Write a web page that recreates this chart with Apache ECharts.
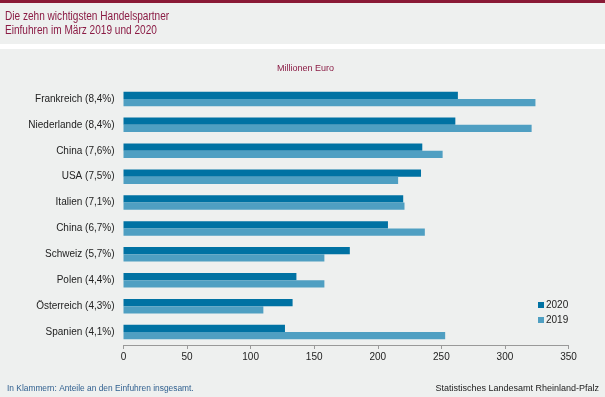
<!DOCTYPE html>
<html>
<head>
<meta charset="utf-8">
<script src="https://cdn.jsdelivr.net/npm/echarts@6/dist/echarts.min.js"></script>
<style>
  html, body { margin: 0; padding: 0; background: #eef0ef; }
  #chart { width: 605px; height: 397px; }
</style>
</head>
<body>
<div id="chart"></div>
<script>
// Länder mit Anteil an den Einfuhren insgesamt
const countries = ['Frankreich (8,4%)', 'Niederlande (8,4%)', 'China (7,6%)', 'USA (7,5%)', 'Italien (7,1%)',
  'China (6,7%)', 'Schweiz (5,7%)', 'Polen (4,4%)', 'Österreich (4,3%)', 'Spanien (4,1%)'];
// Millionen Euro
const values2020 = [263, 261, 235, 234, 220, 208, 178, 136, 133, 127];
const values2019 = [324, 321, 251, 216, 221, 237, 158, 158, 110, 253];
const xTicks = [0, 50, 100, 150, 200, 250, 300, 350];

const font = 'Liberation Sans, Arial, sans-serif';
const maroon = '#8b1c45';

let myChart = echarts.init(document.getElementById('chart'));
let option = {
  backgroundColor: '#eef0ef',
  animation: false,
  textStyle: { fontFamily: font },
  graphic: [
    { type: 'rect', shape: { x: 0, y: 0, width: 605, height: 3 }, style: { fill: '#8a1a36' } },
    { type: 'rect', shape: { x: 0, y: 44, width: 605, height: 5 }, style: { fill: '#ffffff' } },
    { type: 'text', x: 5, y: 11, scaleX: 0.84, style: { text: 'Die zehn wichtigsten Handelspartner', fill: maroon, font: '12px ' + font } },
    { type: 'text', x: 5, y: 25, scaleX: 0.84, style: { text: 'Einfuhren im März 2019 und 2020', fill: maroon, font: '12px ' + font } },
    { type: 'text', left: 277, top: 64, style: { text: 'Millionen Euro', fill: maroon, font: '9px ' + font } },
    { type: 'text', left: 7, top: 385, style: { text: 'In Klammern: Anteile an den Einfuhren insgesamt.', fill: '#2f5f8f', font: '8.4px ' + font } },
    { type: 'text', right: 6, top: 384, style: { text: 'Statistisches Landesamt Rheinland-Pfalz', fill: '#222', font: '9px ' + font } }
  ],
  legend: {
    orient: 'vertical',
    left: 533,
    top: 295,
    itemWidth: 6,
    itemHeight: 6,
    itemGap: 5,
    icon: 'rect',
    data: ['2020', '2019'],
    textStyle: { fontSize: 10, color: '#222', fontFamily: font, padding: [0, 0, 0, -3] }
  },
  grid: {
    left: 123.5,
    right: 36.5,
    top: 86,
    bottom: 52,
    containLabel: false
  },
  xAxis: {
    type: 'value',
    min: 0,
    max: 350,
    interval: 50,
    axisLine: { show: true, lineStyle: { color: '#999', width: 1 } },
    axisTick: { show: true, length: 4, lineStyle: { color: '#999' } },
    splitLine: { show: false },
    axisLabel: {
      margin: 7,
      fontSize: 10,
      color: '#222',
      fontFamily: font,
      formatter: v => xTicks.includes(v) ? String(v) : ''
    }
  },
  yAxis: {
    type: 'category',
    inverse: true,
    data: countries,
    axisLine: { show: false },
    axisTick: { show: false },
    axisLabel: { margin: 9, fontSize: 10, color: '#222', fontFamily: font }
  },
  series: [
    {
      name: '2020',
      type: 'bar',
      data: values2020,
      barGap: '0%',
      barCategoryGap: '44%',
      itemStyle: { color: '#0072a3' }
    },
    {
      name: '2019',
      type: 'bar',
      data: values2019,
      itemStyle: { color: '#4f9fc2' }
    }
  ]
};
myChart.setOption(option);
</script>
</body>
</html>
